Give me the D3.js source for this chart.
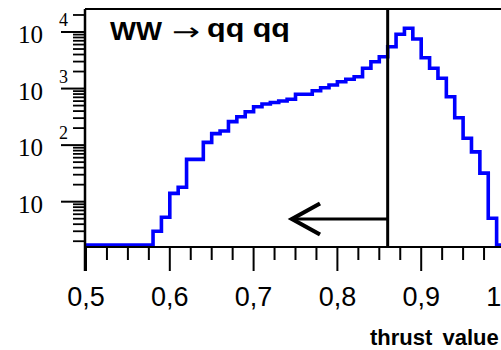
<!DOCTYPE html>
<html>
<head>
<meta charset="utf-8">
<script src="https://cdn.jsdelivr.net/npm/d3@7"></script>
<style>
  html, body { margin: 0; padding: 0; background: #fff; overflow: hidden; }
  svg { display: block; }
</style>
</head>
<body>
<svg id="chart" width="501" height="350"></svg>
<script>
// Lower edges of the thrust bins (width 0.01)
const binEdges = [
  0.50, 0.51, 0.52, 0.53, 0.54, 0.55, 0.56, 0.57, 0.58, 0.59,
  0.60, 0.61, 0.62, 0.63, 0.64, 0.65, 0.66, 0.67, 0.68, 0.69,
  0.70, 0.71, 0.72, 0.73, 0.74, 0.75, 0.76, 0.77, 0.78, 0.79,
  0.80, 0.81, 0.82, 0.83, 0.84, 0.85, 0.86, 0.87, 0.88, 0.89,
  0.90, 0.91, 0.92, 0.93, 0.94, 0.95, 0.96, 0.97, 0.98, 0.99
];
const binUpper = 1.00;

// Events per bin, WW -> qqqq
const counts = [
  0, 0, 0, 0, 0, 0, 0, 0, 3, 5.3,
  14, 18, 56, 56, 112, 160, 178, 260, 318, 390,
  478, 533, 567, 603, 646, 792, 792, 917, 1036, 1156,
  1322, 1458, 1621, 2281, 2985, 3657, 5495, 9100, 11620, 7520,
  3512, 2281, 1518, 718, 305, 132, 76, 32, 5.1, 0
];

// Thrust cut
const thrustCut = 0.86;

// Axis ticks
const xMajorTicks = [0.5, 0.6, 0.7, 0.8, 0.9, 1.0];
const xMinorTicks = [0.525, 0.55, 0.575, 0.625, 0.65, 0.675, 0.725, 0.75, 0.775,
                     0.825, 0.85, 0.875, 0.925, 0.95, 0.975];
const yMajorTicks = [10, 100, 1000, 10000];
const yMajorExp = ["", "2", "3", "4"];
const yMinorTicks = [2, 3, 4, 5, 6, 7, 8, 9,
                     20, 30, 40, 50, 60, 70, 80, 90,
                     200, 300, 400, 500, 600, 700, 800, 900,
                     2000, 3000, 4000, 5000, 6000, 7000, 8000, 9000, 20000];

const svg = d3.select("#chart");

const x = d3.scaleLinear().domain([0.5, 1.0]).range([86, 505]);
const y = d3.scaleLog().domain([1.6, 25000]).range([246.7, 9.5]).clamp(true);
const yFloor = 245;   // empty bins rest on the axis

const decimalComma = d3.formatLocale({decimal: ",", thousands: ".", grouping: [3], currency: ["", ""]});
const fmt = decimalComma.format(".1f");

// ---- frame (top edge) ----
svg.append("line")
  .attr("x1", 85).attr("x2", 501).attr("y1", 9).attr("y2", 9)
  .attr("stroke", "#000").attr("stroke-width", 2);

// ---- histogram ----
const pts = binEdges.map((e, i) => [e, counts[i]]);
pts.push([binUpper, 0]);
const hist = d3.line()
  .x(d => x(d[0]))
  .y(d => d[1] > 0 ? y(d[1]) : yFloor)
  .curve(d3.curveStepAfter);
svg.append("path")
  .attr("d", hist(pts))
  .attr("fill", "none")
  .attr("stroke", "#0000ff")
  .attr("stroke-width", 3.6)
  .attr("stroke-linejoin", "miter");

// ---- cut line and arrow ----
svg.append("line")
  .attr("x1", x(thrustCut)).attr("x2", x(thrustCut))
  .attr("y1", 9).attr("y2", 247)
  .attr("stroke", "#000").attr("stroke-width", 3);
svg.append("line")
  .attr("x1", x(thrustCut)).attr("x2", 293)
  .attr("y1", 219).attr("y2", 219)
  .attr("stroke", "#000").attr("stroke-width", 3);
svg.append("path")
  .attr("d", "M320,203.5 L292,219 L320,234.5")
  .attr("fill", "none").attr("stroke", "#000")
  .attr("stroke-width", 4.2).attr("stroke-linejoin", "miter");

// ---- x axis ----
const xAxisG = svg.append("g");
xAxisG.append("line")
  .attr("x1", 85).attr("x2", 501).attr("y1", 247).attr("y2", 247)
  .attr("stroke", "#000").attr("stroke-width", 2);
xAxisG.selectAll("line.xmin").data(xMinorTicks).join("line")
  .attr("class", "xmin")
  .attr("x1", d => x(d)).attr("x2", d => x(d))
  .attr("y1", 247).attr("y2", 260)
  .attr("stroke", "#000").attr("stroke-width", 2);
xAxisG.selectAll("line.xmaj").data(xMajorTicks).join("line")
  .attr("class", "xmaj")
  .attr("x1", d => x(d)).attr("x2", d => x(d))
  .attr("y1", 247).attr("y2", 271)
  .attr("stroke", "#000").attr("stroke-width", 2);
xAxisG.selectAll("text").data(xMajorTicks).join("text")
  .attr("x", d => x(d)).attr("y", 306)
  .attr("text-anchor", "middle")
  .attr("font-family", "'Liberation Sans', Arial, sans-serif")
  .attr("font-size", 27)
  .attr("fill", "#000")
  .text(d => fmt(d));

// ---- y axis ----
const yAxisG = svg.append("g");
yAxisG.append("line")
  .attr("x1", 85).attr("x2", 85).attr("y1", 9).attr("y2", 271)
  .attr("stroke", "#000").attr("stroke-width", 2.5);
yAxisG.selectAll("line.ymin").data(yMinorTicks).join("line")
  .attr("class", "ymin")
  .attr("x1", 73).attr("x2", 85)
  .attr("y1", d => y(d)).attr("y2", d => y(d))
  .attr("stroke", "#000").attr("stroke-width", 1.8);
yAxisG.selectAll("line.ymaj").data(yMajorTicks).join("line")
  .attr("class", "ymaj")
  .attr("x1", 61).attr("x2", 85)
  .attr("y1", d => y(d)).attr("y2", d => y(d))
  .attr("stroke", "#000").attr("stroke-width", 2);
const yLab = yAxisG.selectAll("g.ylab").data(yMajorTicks).join("g").attr("class", "ylab");
yLab.append("text")
  .attr("x", 18).attr("y", d => y(d) + 11)
  .attr("font-family", "'Liberation Serif', 'Times New Roman', serif")
  .attr("font-size", 25)
  .attr("fill", "#000")
  .text("10");
yLab.append("text")
  .attr("x", 59).attr("y", d => y(d) - 6)
  .attr("font-family", "'Liberation Serif', 'Times New Roman', serif")
  .attr("font-size", 18)
  .attr("fill", "#000")
  .text((d, i) => yMajorExp[i]);

// ---- process label ----
const title = svg.append("g")
  .attr("font-family", "'Liberation Sans', Arial, sans-serif")
  .attr("fill", "#000");
title.append("text")
  .attr("x", 110).attr("y", 40)
  .attr("font-size", 25).attr("font-weight", "bold")
  .attr("textLength", 52).attr("lengthAdjust", "spacingAndGlyphs")
  .text("WW");
title.append("text")
  .attr("x", 172).attr("y", 40)
  .attr("font-family", "'DejaVu Sans', sans-serif")
  .attr("font-size", 24)
  .attr("textLength", 28).attr("lengthAdjust", "spacingAndGlyphs")
  .text("→");
title.append("text")
  .attr("x", 207).attr("y", 37)
  .attr("font-size", 25).attr("font-weight", "bold")
  .attr("textLength", 83).attr("lengthAdjust", "spacingAndGlyphs")
  .text("qq qq");

// ---- x axis title ----
svg.append("text")
  .attr("x", 370).attr("y", 345)
  .attr("font-family", "'Liberation Sans', Arial, sans-serif")
  .attr("font-size", 22).attr("font-weight", "bold")
  .attr("word-spacing", 4)
  .attr("fill", "#000")
  .text("thrust value");
</script>
</body>
</html>
